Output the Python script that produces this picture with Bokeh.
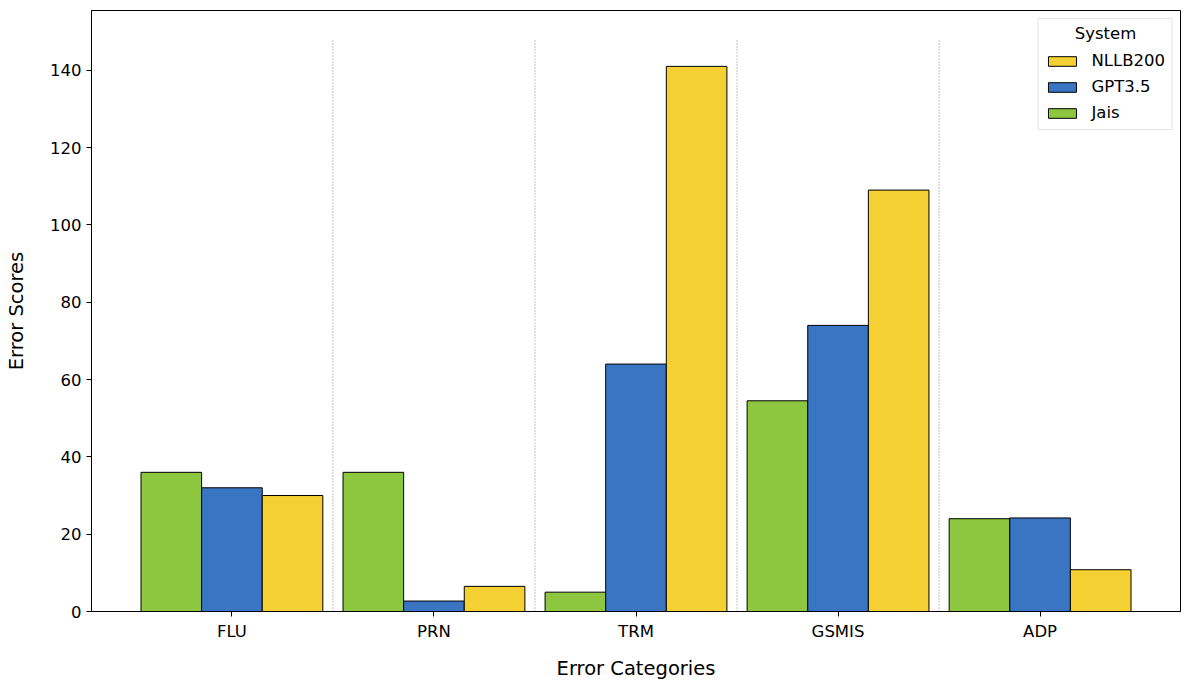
from bokeh.plotting import figure
from bokeh.models import ColumnDataSource, FixedTicker, Legend, LegendItem, Range1d, Label
from bokeh.embed import file_html
from bokeh.resources import INLINE

categories = ["FLU", "PRN", "TRM", "GSMIS", "ADP"]
systems = ["Jais", "GPT3.5", "NLLB200"]
jais = [36, 36, 5, 54.5, 24]
gpt35 = [32, 2.7, 64, 74, 24.2]
nllb200 = [30, 6.5, 141, 109, 10.8]
colors = {"Jais": "#8DC63F", "GPT3.5": "#3A75C4", "NLLB200": "#F5D033"}
y_ticks = [0, 20, 40, 60, 80, 100, 120, 140]

FONT = "DejaVu Sans"
TICK_FS = "16.5px"
LABEL_FS = "19.5px"
bar_w = 0.3
idx = list(range(len(categories)))
ymax_line = max(max(jais), max(gpt35), max(nllb200)) * 1.05
x0, x1 = -0.695, len(categories) - 1 + 0.695
y0, y1 = 0, ymax_line * 1.05

W, H = 1181, 682
ML, MR, MT, MB = 91, 1, 10, 70

p = figure(width=W, height=H, output_backend="svg", toolbar_location=None,
           x_range=Range1d(x0, x1), y_range=Range1d(y0, y1),
           min_border_left=ML, min_border_right=MR, min_border_top=MT, min_border_bottom=MB)

renderers = {}
for k, (name, vals) in enumerate(zip(systems, [jais, gpt35, nllb200])):
    src = ColumnDataSource(dict(x=[i + (k - 1) * bar_w for i in idx], top=vals))
    renderers[name] = p.vbar(x="x", top="top", width=bar_w, bottom=0, source=src,
                             fill_color=colors[name], line_color="black", line_width=1)

sep_src = ColumnDataSource(dict(x=[i + 0.5 for i in idx[:-1]],
                                y0=[0] * (len(idx) - 1), y1=[ymax_line] * (len(idx) - 1)))
p.segment(x0="x", x1="x", y0="y0", y1="y1", source=sep_src,
          line_color="#808080", line_dash="1 2", line_width=1)

p.xgrid.visible = False
p.ygrid.visible = False
p.outline_line_color = "black"
p.outline_line_width = 1
p.background_fill_color = "white"

p.xaxis.ticker = FixedTicker(ticks=idx)
p.xaxis.major_label_overrides = {i: c for i, c in enumerate(categories)}
p.yaxis.ticker = FixedTicker(ticks=y_ticks)
for ax in (p.xaxis[0], p.yaxis[0]):
    ax.axis_line_color = "black"
    ax.major_tick_line_color = "black"
    ax.major_tick_out = 5
    ax.major_tick_in = 0
    ax.minor_tick_line_color = None
    ax.major_label_text_font = FONT
    ax.major_label_text_font_size = TICK_FS
    ax.major_label_text_color = "black"
    ax.axis_label_text_font = FONT
    ax.axis_label_text_font_size = LABEL_FS
    ax.axis_label_text_font_style = "normal"
    ax.axis_label_text_color = "black"
    ax.major_label_standoff = 5
p.xaxis.axis_label = "Error Categories"
p.yaxis.axis_label = "Error Scores"
p.xaxis.axis_label_standoff = 13
p.yaxis.axis_label_standoff = 19

items = [LegendItem(label=n, renderers=[renderers[n]]) for n in ["NLLB200", "GPT3.5", "Jais"]]
legend = Legend(items=items, location="top_right", title=" ")
legend.title_text_font = FONT
legend.title_text_font_size = TICK_FS
legend.title_text_font_style = "normal"
legend.label_text_font = FONT
legend.label_text_font_size = TICK_FS
legend.label_text_color = "black"
legend.glyph_width = 35
legend.glyph_height = 12
legend.label_height = 21
legend.label_standoff = 12
legend.spacing = 5
legend.margin = 8
legend.padding = 6
legend.title_standoff = 6
legend.border_line_color = "#cccccc"
legend.border_line_width = 1
legend.background_fill_alpha = 0
p.add_layout(legend)

# centred legend title (matplotlib style)
frame_w = W - ML - MR
frame_h = H - MT - MB
title_x = x1 - (8 + 67) / frame_w * (x1 - x0)
title_y = y1 - (8 + 15) / frame_h * (y1 - y0)
p.add_layout(Label(x=title_x, y=title_y, text="System", text_font=FONT,
                   text_font_size=TICK_FS, text_color="black",
                   text_align="center", text_baseline="middle", level="overlay"))

open("out.html", "w").write(file_html(p, INLINE))
